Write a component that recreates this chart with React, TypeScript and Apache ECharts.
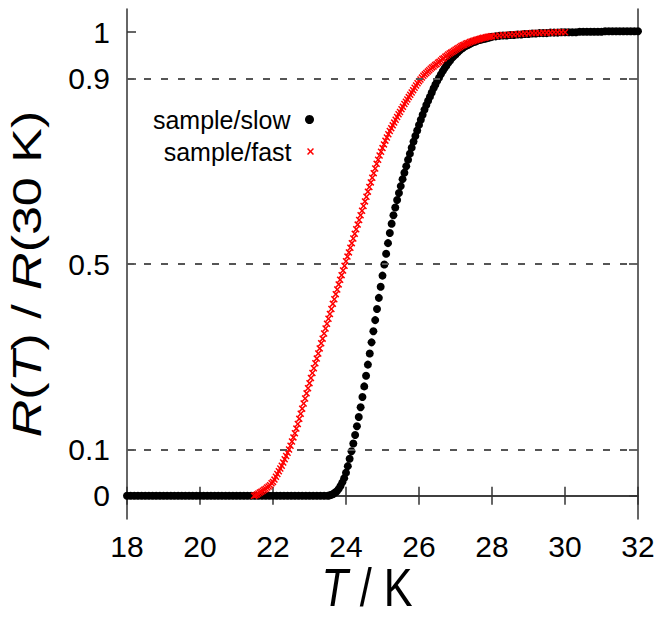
import React, { useEffect, useRef } from "react";
import * as echarts from "echarts";

// ---- data ----
const xTicks = [18, 20, 22, 24, 26, 28, 30, 32];
const yTickValues = [0, 0.1, 0.5, 0.9, 1];
const dashedLevels = [0.1, 0.5, 0.9];
const seriesNames = ["sample/slow", "sample/fast"];
const xTitle = "{i|T} / K";
const yTitle = "{i|R}({i|T}) / {i|R}(30 K)";

// sample/slow : [T (K), R(T)/R(30 K)]
const slowLow = [
  [18.0, 0], [18.1, 0], [18.2, 0], [18.3, 0], [18.4, 0], [18.5, 0], [18.6, 0], [18.7, 0], [18.8, 0], [18.9, 0],
  [19.0, 0], [19.1, 0], [19.2, 0], [19.3, 0], [19.4, 0], [19.5, 0], [19.6, 0], [19.7, 0], [19.8, 0], [19.9, 0],
  [20.0, 0], [20.1, 0], [20.2, 0], [20.3, 0], [20.4, 0], [20.5, 0], [20.6, 0], [20.7, 0], [20.8, 0], [20.9, 0],
  [21.0, 0], [21.1, 0], [21.2, 0], [21.3, 0], [21.4, 0], [21.5, 0], [21.6, 0], [21.7, 0], [21.8, 0], [21.9, 0],
  [22.0, 0], [22.1, 0], [22.2, 0], [22.3, 0], [22.4, 0], [22.5, 0], [22.6, 0], [22.7, 0], [22.8, 0], [22.9, 0],
  [23.0, 0], [23.1, 0], [23.2, 0], [23.3, 0], [23.4, 0],
];
const slowTransition = [
  [23.50, 0.000], [23.55, 0.001], [23.60, 0.002], [23.65, 0.004], [23.70, 0.007], [23.75, 0.010],
  [23.80, 0.015], [23.85, 0.021], [23.90, 0.029], [23.95, 0.038], [24.00, 0.050], [24.05, 0.064],
  [24.10, 0.080], [24.15, 0.096], [24.20, 0.113], [24.25, 0.131], [24.30, 0.150], [24.35, 0.170],
  [24.40, 0.191], [24.45, 0.213], [24.50, 0.236], [24.55, 0.259], [24.60, 0.283], [24.65, 0.307],
  [24.70, 0.331], [24.75, 0.355], [24.80, 0.379], [24.85, 0.403], [24.90, 0.427], [24.95, 0.451],
  [25.00, 0.475], [25.05, 0.499], [25.10, 0.522], [25.15, 0.545], [25.20, 0.567], [25.25, 0.587],
  [25.30, 0.605], [25.35, 0.622], [25.40, 0.638], [25.45, 0.653], [25.50, 0.668], [25.55, 0.683],
  [25.60, 0.697], [25.65, 0.711], [25.70, 0.725], [25.75, 0.738], [25.80, 0.751], [25.85, 0.764],
  [25.90, 0.776], [25.95, 0.788], [26.00, 0.800], [26.05, 0.811], [26.10, 0.822], [26.15, 0.833],
  [26.20, 0.843], [26.25, 0.852], [26.30, 0.861], [26.35, 0.870], [26.40, 0.879], [26.45, 0.887],
  [26.50, 0.895], [26.55, 0.902], [26.60, 0.909], [26.65, 0.916], [26.70, 0.922], [26.75, 0.928],
  [26.80, 0.934], [26.85, 0.939], [26.90, 0.944], [26.95, 0.948], [27.00, 0.952], [27.05, 0.956],
  [27.10, 0.960], [27.15, 0.963], [27.20, 0.966], [27.25, 0.969], [27.30, 0.971], [27.35, 0.973],
  [27.40, 0.975], [27.45, 0.977], [27.50, 0.979], [27.55, 0.980], [27.60, 0.982], [27.65, 0.983],
  [27.70, 0.984], [27.75, 0.985], [27.80, 0.986], [27.85, 0.987], [27.90, 0.988], [27.95, 0.989],
  [28.00, 0.990],
];
const slowHigh = [
  [28.1, 0.991], [28.2, 0.992], [28.3, 0.993], [28.4, 0.993], [28.5, 0.994], [28.6, 0.994], [28.7, 0.995],
  [28.8, 0.995], [28.9, 0.996], [29.0, 0.996], [29.1, 0.997], [29.2, 0.997], [29.3, 0.998], [29.4, 0.998],
  [29.5, 0.998], [29.6, 0.999], [29.7, 0.999], [29.8, 0.999], [29.9, 1.000], [30.0, 1.000], [30.1, 1.000],
  [30.2, 1.000], [30.3, 1.000], [30.4, 1.001], [30.5, 1.001], [30.6, 1.001], [30.7, 1.001], [30.8, 1.001],
  [30.9, 1.001], [31.0, 1.001], [31.1, 1.002], [31.2, 1.002], [31.3, 1.002], [31.4, 1.002], [31.5, 1.002],
  [31.6, 1.002], [31.7, 1.002], [31.8, 1.002], [31.9, 1.002], [32.0, 1.002],
];

// sample/fast : [T (K), R(T)/R(30 K)]
const fastTransition = [
  [21.48, 0.000], [21.52, 0.001], [21.56, 0.003], [21.60, 0.005], [21.64, 0.007], [21.68, 0.009],
  [21.72, 0.011], [21.76, 0.013], [21.80, 0.015], [21.84, 0.018], [21.88, 0.020], [21.92, 0.023],
  [21.96, 0.027], [22.00, 0.030], [22.04, 0.035], [22.08, 0.041], [22.12, 0.047], [22.16, 0.053],
  [22.20, 0.059], [22.24, 0.065], [22.28, 0.072], [22.32, 0.079], [22.36, 0.086], [22.40, 0.093],
  [22.44, 0.100], [22.48, 0.108], [22.52, 0.117], [22.56, 0.126], [22.60, 0.135], [22.64, 0.145],
  [22.68, 0.155], [22.72, 0.166], [22.76, 0.177], [22.80, 0.188], [22.84, 0.199], [22.88, 0.210],
  [22.92, 0.221], [22.96, 0.232], [23.00, 0.243], [23.04, 0.254], [23.08, 0.265], [23.12, 0.275],
  [23.16, 0.286], [23.20, 0.296], [23.24, 0.307], [23.28, 0.318], [23.32, 0.329], [23.36, 0.339],
  [23.40, 0.350], [23.44, 0.361], [23.48, 0.371], [23.52, 0.382], [23.56, 0.392], [23.60, 0.403],
  [23.64, 0.414], [23.68, 0.424], [23.72, 0.435], [23.76, 0.445], [23.80, 0.456], [23.84, 0.466],
  [23.88, 0.476], [23.92, 0.486], [23.96, 0.496], [24.00, 0.506], [24.04, 0.516], [24.08, 0.525],
  [24.12, 0.535], [24.16, 0.545], [24.20, 0.555], [24.24, 0.565], [24.28, 0.575], [24.32, 0.585],
  [24.36, 0.595], [24.40, 0.605], [24.44, 0.615], [24.48, 0.625], [24.52, 0.635], [24.56, 0.645],
  [24.60, 0.656], [24.64, 0.666], [24.68, 0.676], [24.72, 0.686], [24.76, 0.696], [24.80, 0.706],
  [24.84, 0.716], [24.88, 0.725], [24.92, 0.734], [24.96, 0.742], [25.00, 0.750], [25.04, 0.758],
  [25.08, 0.766], [25.12, 0.773], [25.16, 0.780], [25.20, 0.787], [25.24, 0.793], [25.28, 0.799],
  [25.32, 0.805], [25.36, 0.811], [25.40, 0.817], [25.44, 0.823], [25.48, 0.828], [25.52, 0.834],
  [25.56, 0.839], [25.60, 0.845], [25.64, 0.850], [25.68, 0.855], [25.72, 0.860], [25.76, 0.865],
  [25.80, 0.870], [25.84, 0.875], [25.88, 0.880], [25.92, 0.885], [25.96, 0.890], [26.00, 0.894],
  [26.04, 0.898], [26.08, 0.902], [26.12, 0.906], [26.16, 0.909], [26.20, 0.912], [26.24, 0.915],
  [26.28, 0.918], [26.32, 0.921], [26.36, 0.924], [26.40, 0.926], [26.44, 0.929], [26.48, 0.931],
  [26.52, 0.934], [26.56, 0.936], [26.60, 0.939], [26.64, 0.942], [26.68, 0.944], [26.72, 0.947],
  [26.76, 0.949], [26.80, 0.952], [26.84, 0.954], [26.88, 0.956], [26.92, 0.958], [26.96, 0.960],
  [27.00, 0.962], [27.04, 0.964], [27.08, 0.966], [27.12, 0.968], [27.16, 0.970], [27.20, 0.972],
  [27.24, 0.973], [27.28, 0.975], [27.32, 0.976], [27.36, 0.977], [27.40, 0.979], [27.44, 0.980],
  [27.48, 0.981], [27.52, 0.982], [27.56, 0.983], [27.60, 0.984], [27.64, 0.985], [27.68, 0.986],
  [27.72, 0.987], [27.76, 0.988], [27.80, 0.988], [27.84, 0.989], [27.88, 0.990], [27.92, 0.990],
  [27.96, 0.991], [28.00, 0.991],
];
const fastHigh = [
  [28.1, 0.992], [28.2, 0.993], [28.3, 0.994], [28.4, 0.994], [28.5, 0.995], [28.6, 0.995], [28.7, 0.996],
  [28.8, 0.996], [28.9, 0.997], [29.0, 0.997], [29.1, 0.998], [29.2, 0.998], [29.3, 0.998], [29.4, 0.999],
  [29.5, 0.999], [29.6, 0.999], [29.7, 1.000], [29.8, 1.000], [29.9, 1.000], [30.0, 1.000],
];

const FONT = "'Liberation Sans', Arial, Helvetica, sans-serif";
const CROSS =
  "path://M1.5,0L5,3.5L8.5,0L10,1.5L6.5,5L10,8.5L8.5,10L5,6.5L1.5,10L0,8.5L3.5,5L0,1.5Z";

export default function App() {
  const ref = useRef<HTMLDivElement>(null);

  useEffect(() => {
    if (!ref.current) return;
    const chart = echarts.init(ref.current, undefined, { renderer: "svg" });
    const frame = { show: true, lineStyle: { color: "#333", width: 1.5 } };
    const tick = { show: true, inside: true, length: 9, lineStyle: { color: "#333", width: 1.5 } };
    const legendText = { fontSize: 25, fontFamily: FONT, color: "#000", lineHeight: 25 };

    chart.setOption({
      animation: false,
      backgroundColor: "#fff",
      grid: { left: 127, right: 24, top: 9, bottom: 102, containLabel: false },
      legend: [
        {
          data: [seriesNames[0]],
          orient: "vertical",
          align: "right",
          right: 348,
          top: 107,
          padding: 0,
          itemWidth: 28,
          itemHeight: 9,
          symbolKeepAspect: true,
          selectedMode: false,
          textStyle: legendText,
        },
        {
          data: [seriesNames[1]],
          orient: "vertical",
          align: "right",
          right: 348,
          top: 139,
          padding: 0,
          itemWidth: 28,
          itemHeight: 7,
          symbolKeepAspect: true,
          selectedMode: false,
          textStyle: legendText,
        },
      ],
      graphic: [
        {
          type: "text",
          x: 367,
          y: 587,
          scaleX: 0.8,
          scaleY: 1,
          silent: true,
          style: {
            text: xTitle,
            fontSize: 54,
            fontFamily: FONT,
            fill: "#000",
            align: "center",
            verticalAlign: "middle",
            rich: { i: { fontSize: 54, fontFamily: FONT, fontStyle: "italic", fill: "#000" } },
          },
        },
        {
          type: "text",
          x: 27,
          y: 274,
          rotation: Math.PI / 2,
          scaleX: 1.3,
          scaleY: 1,
          silent: true,
          style: {
            text: yTitle,
            fontSize: 40,
            fontFamily: FONT,
            fill: "#000",
            align: "center",
            verticalAlign: "middle",
            rich: { i: { fontSize: 40, fontFamily: FONT, fontStyle: "italic", fill: "#000" } },
          },
        },
      ],
      xAxis: [
        {
          type: "value",
          position: "bottom",
          min: xTicks[0],
          max: xTicks[xTicks.length - 1],
          interval: 2,
          axisLine: frame,
          axisTick: tick,
          splitLine: { show: false },
          axisLabel: { fontSize: 30, fontFamily: FONT, color: "#000", margin: 12 },
        },
        {
          type: "value",
          position: "top",
          min: xTicks[0],
          max: xTicks[xTicks.length - 1],
          interval: 2,
          axisLine: frame,
          axisTick: tick,
          splitLine: { show: false },
          axisLabel: { show: false },
        },
      ],
      yAxis: [
        {
          type: "value",
          position: "left",
          min: -0.05,
          max: 1.05,
          axisLine: frame,
          axisTick: { ...tick, customValues: yTickValues },
          splitLine: { show: false },
          axisLabel: {
            customValues: yTickValues,
            fontSize: 30,
            fontFamily: FONT,
            color: "#000",
            margin: 17,
            formatter: (v: number) => String(Math.round(v * 10) / 10),
          },
        },
        {
          type: "value",
          position: "right",
          min: -0.05,
          max: 1.05,
          axisLine: frame,
          axisTick: { ...tick, customValues: yTickValues },
          splitLine: { show: false },
          axisLabel: { show: false },
        },
      ],
      series: [
        {
          type: "line",
          name: "guides",
          data: [],
          silent: true,
          z: 1,
          markLine: {
            silent: true,
            symbol: ["none", "none"],
            label: { show: false },
            lineStyle: { color: "#555", width: 1.8, type: [7, 10] },
            data: dashedLevels.map((v) => ({ yAxis: v })),
          },
        },
        {
          type: "scatter",
          name: seriesNames[0],
          data: [...slowLow, ...slowTransition, ...slowHigh],
          symbol: "circle",
          symbolSize: 8,
          itemStyle: { color: "#000", opacity: 1 },
          z: 3,
        },
        {
          type: "scatter",
          name: seriesNames[1],
          data: [...fastTransition, ...fastHigh],
          symbol: CROSS,
          symbolSize: 7,
          itemStyle: { color: "#ff0000", opacity: 1 },
          z: 4,
        },
      ],
    });

    return () => chart.dispose();
  }, []);

  return (
    <div
      ref={ref}
      style={{ position: "fixed", left: 0, top: 0, width: 662, height: 621, background: "#fff" }}
    />
  );
}
